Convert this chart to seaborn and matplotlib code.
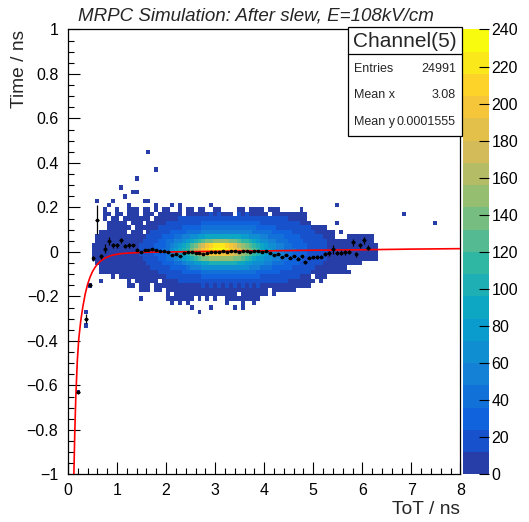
import numpy as np
import pandas as pd
import matplotlib
matplotlib.use("Agg")
import matplotlib.pyplot as plt
import matplotlib.colors as mcolors
from matplotlib.patches import Rectangle
from matplotlib.ticker import MultipleLocator, FuncFormatter
import seaborn as sns

sns.set_style("ticks")
plt.rcParams['font.family'] = ['Liberation Sans', 'DejaVu Sans']
plt.rcParams.update({
    "xtick.bottom": True, "ytick.left": True, "xtick.top": False, "ytick.right": False,
    "xtick.direction": "in", "ytick.direction": "in",
    "xtick.color": "black", "ytick.color": "black",
    "xtick.major.size": 8.6, "ytick.major.size": 8.6,
    "xtick.minor.size": 4.3, "ytick.minor.size": 4.3,
    "xtick.major.width": 0.8, "ytick.major.width": 0.8,
    "xtick.minor.width": 0.8, "ytick.minor.width": 0.8,
    "axes.axisbelow": False, "axes.edgecolor": "black",
})

# 2D histogram: ToT bins of 0.08 ns, time bins of 0.02 ns.
# one string per time bin, top row first; columns are ToT bins from 0 ns
# (spaces only group 5 bins). '.' = empty,
# '1'..'9','a'..'k' = colour band 1..20 (12 entries per band)
TOT_BIN = 0.08
TIME_BIN = 0.02
TOP_ROW = 72  # bin index (counted from -1 ns) of the first string

hist_rows = [
    "..... ..... ..... ..... 1",
    "",
    "",
    "",
    "..... ..... ..... ..... ..1",
    "",
    "..... ..... ..... ..1",
    "",
    "..... ..... ...1",
    "..... ..... ..... .11",
    "..... ..... ....1",
    "..... ..1.. .1... ....1 1",
    "..... ..... 1.... 1.... ..1.. .1.1. ..... .1... ..... ..... ..... ..... ..... ...1",
    "..... ....1 ..1.. 111.1 1.1.1 1..1. 11.11 ..11. ...11 .1111 .111. ....1",
    "..... ....1 1.11. 111.1 11.11 1111. 11111 12121 11.21 21111 1.111 11111 1",
    "..... ....1 .11.1 11111 1.111 11122 22222 22222 22222 22222 22222 21111 1",
    "..... ..... 11111 .111. 11111 22222 22223 33333 33333 33332 22222 22221 11... ...1.",
    "..... ..... 11111 1.111 11122 22223 33334 44444 44444 44433 33322 22222 22111 1",
    "..... ...11 11111 .111. 12222 23333 44445 55555 55555 55444 44333 33222 22211 111.1",
    "..... ..111 11111 11111 22223 33445 56677 88888 88887 76665 54444 33332 22222 111.. .1111 111",
    "..... ..111 11111 11112 22233 44556 789ab ccddd dccba a9876 65544 43333 22222 21111 11111 111",
    "..... .1111 11111 11122 22333 45678 9bcef hijjj ihged cba98 76655 44333 32222 21111 11111 1111",
    "..... .1111 11111 11122 22334 46789 acefh ijkkk jihge dcba8 77655 44433 32222 21111 11111 1111",
    "..... .1111 11111 11122 22333 45678 9bcef ghhhh hgfed cba98 76655 44333 32222 21111 11111 1111",
    "..... .1111 11111 11112 22233 44567 89abc cdddd ddccb a9877 66554 43333 22222 21111 11111 1111",
    "..... ..111 11111 11111 22223 33445 66778 89999 99988 77666 55444 33332 22222 11111 11111",
    "..... ...11 11111 11111 12222 23333 45556 66666 66666 65554 44333 33222 22211 11111 1",
    "..... ...11 11111 11111 11122 22223 33334 44444 44444 44433 33332 22222 22111 11111 11",
    "..... ..... .1.11 11111 11111 22222 22223 33333 33333 33332 22222 22221 11.11 1",
    "..... ...1. ..... 1.111 111.1 11122 22222 22222 22222 22222 22222 21111 111.1",
    "..... 1.... ..... 11.11 1.111 11111 11112 12121 21212 12121 11111 11111 11",
    "..... ..... ..... ...11 1.11. 11111 11111 11111 11111 11111 1.111 111",
    "..... ..... ..... ..... ..... 1.111 11111 11111 111.1 11111 1.1",
    "..... ..... ..... ...1. ..... 11111 11.1. 1.1.. 11111 1111",
    "..... ..... ..... ..... ..... .1.1. 1.... ..... 1...1 ..1",
    "..... ..... ..... ..... ..... ..... .1... .1... ..1.1",
    "....1 ..... ..... ..... ..... ..... ...1",
    "",
    "",
    "....1",
]

# isolated cells away from the main blob
stray_tot = [6.85, 7.45, 0.2]
stray_time = [0.17, 0.13, -0.63]
stray_count = [6, 6, 6]

# profile points (mean time in 0.08 ns ToT bins)
prof_tot = [0.20, 0.36, 0.44, 0.52, 0.60, 0.68, 0.76, 0.84, 0.92, 1.00,
            1.08, 1.16, 1.24, 1.32, 1.40, 1.48, 1.56, 1.64, 1.72, 1.80,
            1.88, 1.96, 2.04, 2.12, 2.20, 2.28, 2.36, 2.44, 2.52, 2.60,
            2.68, 2.76, 2.84, 2.92, 3.00, 3.08, 3.16, 3.24, 3.32, 3.40,
            3.48, 3.56, 3.64, 3.72, 3.80, 3.88, 3.96, 4.04, 4.12, 4.20,
            4.28, 4.36, 4.44, 4.52, 4.60, 4.68, 4.76, 4.84, 4.92, 5.00,
            5.08, 5.16, 5.24, 5.32, 5.40, 5.48, 5.56, 5.64, 5.72, 5.80,
            5.88, 5.96, 6.04, 6.12]
prof_time = [-0.63, -0.30, -0.148, -0.028, 0.145, -0.02, 0.014, 0.05, 0.03, 0.03,
             0.052, 0.027, 0.03, 0.03, 0.011, 0.0, 0.01, 0.011, 0.012, 0.01,
             0.006, 0.004, -0.002, -0.012, -0.008, -0.016, -0.004, 0.002, -0.002, -0.006,
             -0.004, -0.01, -0.006, -0.002, 0.001, 0.0, 0.003, 0.001, 0.004, 0.006,
             0.002, 0.005, 0.003, 0.0, 0.004, 0.005, 0.002, 0.004, -0.004, -0.012,
             -0.01, -0.022, -0.014, -0.026, -0.018, -0.03, -0.02, -0.046, -0.025, -0.024,
             -0.022, -0.021, -0.008, -0.006, 0.012, -0.004, -0.003, -0.002, 0.0, 0.044,
             -0.01, 0.03, 0.052, 0.02]
prof_err = [0.01, 0.02, 0.01, 0.012, 0.065, 0.012, 0.02, 0.018, 0.012, 0.012,
            0.012, 0.01, 0.01, 0.008, 0.006, 0.005, 0.005, 0.004, 0.004, 0.004,
            0.004, 0.003, 0.003, 0.003, 0.003, 0.003, 0.003, 0.003, 0.003, 0.003,
            0.003, 0.003, 0.003, 0.003, 0.003, 0.003, 0.003, 0.003, 0.003, 0.003,
            0.003, 0.003, 0.003, 0.003, 0.003, 0.003, 0.003, 0.004, 0.004, 0.004,
            0.005, 0.005, 0.005, 0.006, 0.006, 0.006, 0.006, 0.007, 0.007, 0.007,
            0.008, 0.008, 0.01, 0.01, 0.02, 0.01, 0.01, 0.01, 0.01, 0.015,
            0.012, 0.012, 0.015, 0.012]

# fitted slewing curve (red)
fit_tot = [0.12, 0.14, 0.16, 0.19, 0.22, 0.26, 0.30, 0.35, 0.40, 0.45,
           0.50, 0.56, 0.62, 0.67, 0.75, 0.85, 0.95, 1.1, 1.3, 1.6,
           2.0, 3.0, 4.0, 5.0, 6.0, 7.0, 8.0]
fit_time = [-1.0, -0.80, -0.65, -0.49, -0.39, -0.31, -0.25, -0.19, -0.145, -0.113,
            -0.088, -0.066, -0.05, -0.04, -0.028, -0.018, -0.012, -0.007, -0.004, -0.001,
            0.0, 0.003, 0.005, 0.008, 0.01, 0.013, 0.015]

# ROOT kBird palette, 20 contour levels from 0 to 240
bird_stops = [0.0, 0.125, 0.25, 0.375, 0.5, 0.625, 0.75, 0.875, 1.0]
bird_r = [0.2082, 0.0592, 0.0780, 0.0232, 0.1802, 0.5301, 0.8186, 0.9956, 0.9764]
bird_g = [0.1664, 0.3599, 0.5041, 0.6419, 0.7178, 0.7492, 0.7328, 0.7862, 0.9832]
bird_b = [0.5293, 0.8684, 0.8385, 0.7914, 0.6425, 0.4662, 0.3499, 0.1968, 0.0539]
bird = mcolors.LinearSegmentedColormap.from_list(
    "bird", list(zip(bird_stops, zip(bird_r, bird_g, bird_b))))
n_levels = 20
level_colors = [bird(int((i + 0.99) * 255 / n_levels) / 254) for i in range(n_levels)]
cmap = mcolors.ListedColormap(level_colors)

# decode the cell strings into (ToT, time, entries)
codes = "123456789abcdefghijk"
cells = []
for r, row in enumerate(hist_rows):
    row = row.replace(" ", "")
    yc = -1 + (TOP_ROW - r + 0.5) * TIME_BIN
    for j, ch in enumerate(row):
        if ch != ".":
            band = codes.index(ch) + 1
            cells.append((TOT_BIN * (j + 0.5), yc, 12 * band - 6))
for t, y, n in zip(stray_tot, stray_time, stray_count):
    cells.append((t, y, n))
df = pd.DataFrame(cells, columns=["tot", "time", "n"])

x_edges = np.linspace(0, 8, 101)
y_edges = np.linspace(-1, 1, 101)

fig = plt.figure(figsize=(5.29, 5.22), dpi=100)
ax = fig.add_axes([0.1285, 0.091, 0.742, 0.8525])
cax = fig.add_axes([0.876, 0.091, 0.0478, 0.8525])

sns.histplot(data=df, x="tot", y="time", weights="n", bins=[x_edges, y_edges],
             cmap=cmap, ax=ax)
mesh = ax.collections[0]
mesh.set_clim(0, 240)
cbar = fig.colorbar(mesh, cax=cax)

sns.lineplot(x=fit_tot, y=fit_time, color="#ff0000", lw=1.2, ax=ax, zorder=4)
ax.errorbar(prof_tot, prof_time, xerr=0.04, yerr=prof_err, fmt="o", ms=1.6,
            color="black", lw=0.9, capsize=0, zorder=5)

ax.set_xlim(0, 8)
ax.set_ylim(-1, 1)
ax.set_xlabel("")
ax.set_ylabel("")
ax.set_axisbelow(False)
ax.xaxis.set_major_locator(MultipleLocator(1))
ax.xaxis.set_minor_locator(MultipleLocator(0.2))
ax.yaxis.set_major_locator(MultipleLocator(0.2))
ax.yaxis.set_minor_locator(MultipleLocator(0.05))
ax.yaxis.set_major_formatter(FuncFormatter(
    lambda v, p: f"{v:g}".replace("-", "\u2212") if abs(v) > 1e-9 else "0"))
ax.tick_params(which="both", direction="in", bottom=True, left=True, top=False, right=False,
               width=0.8, color="black", labelsize=11.5, zorder=20)
ax.tick_params(which="major", length=8.6)
ax.tick_params(which="minor", length=4.3)
ax.tick_params(axis="y", pad=7)
ax.tick_params(axis="x", pad=6)
for s in ax.spines.values():
    s.set_visible(True)
    s.set_color("black")
    s.set_linewidth(0.9)

cbar.set_ticks(np.arange(0, 241, 20))
cbar.outline.set_visible(False)
cax.set_axisbelow(False)
cax.tick_params(direction="in", length=7, width=0.8, color="black", labelsize=11.5, pad=2,
                right=True, left=False, zorder=20)

fig.text(0.483, 0.969, "MRPC Simulation: After slew, E=108kV/cm", ha="center", va="center",
         fontsize=13.5, style="italic")
fig.text(460 / 529, 1 - 509 / 522, "ToT / ns", ha="right", va="center", fontsize=13.8)
fig.text(20 / 529, 1 - 30 / 522, "Time / ns", ha="center", va="top", rotation=90, fontsize=13.8)

# statistics box
bx0, bx1, by0, by1, bsep = 0.6584, 0.8728, 0.7395, 0.9477, 0.896
fig.add_artist(Rectangle((bx0, by0), bx1 - bx0, by1 - by0, transform=fig.transFigure,
                         facecolor="white", edgecolor="black", lw=0.9, zorder=10))
fig.add_artist(plt.Line2D([bx0, bx1], [bsep, bsep], transform=fig.transFigure,
                          color="black", lw=0.9, zorder=11))
fig.text((bx0 + bx1) / 2, 0.920, "Channel(5)", ha="center", va="center", fontsize=15, zorder=12)
stat_names = ["Entries", "Mean x", "Mean y"]
stat_values = ["24991", "3.08", "0.0001555"]
for yy, name, val in zip([0.8678, 0.818, 0.767], stat_names, stat_values):
    fig.text(0.669, yy, name, ha="left", va="center", fontsize=9, zorder=12)
    fig.text(0.862, yy, val, ha="right", va="center", fontsize=9, zorder=12)

fig.savefig("out.png", dpi=100)
